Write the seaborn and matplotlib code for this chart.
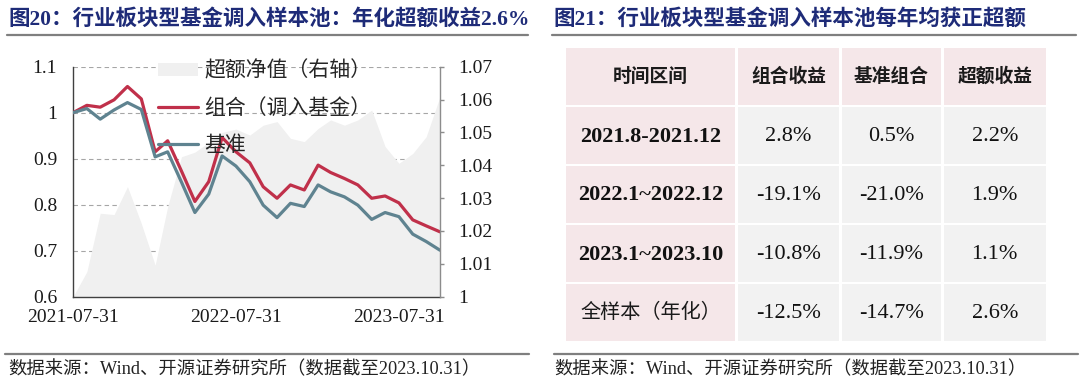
import numpy as np
import pandas as pd
import matplotlib
matplotlib.use("Agg")
import matplotlib.pyplot as plt
import matplotlib.dates as mdates
from matplotlib.lines import Line2D
from matplotlib.patches import Rectangle
import seaborn as sns

# -----------------------------
# Data
# -----------------------------
dates = pd.date_range("2021-07-31", "2023-10-31", freq="ME")

portfolio = [1.000, 1.016, 1.012, 1.028, 1.057, 1.030, 0.915, 0.939, 0.873, 0.807,
             0.850, 0.946, 0.915, 0.891, 0.839, 0.814, 0.843, 0.832, 0.886, 0.870,
             0.857, 0.843, 0.814, 0.819, 0.804, 0.767, 0.754, 0.741]
benchmark = [1.000, 1.009, 0.986, 1.006, 1.022, 1.007, 0.904, 0.915, 0.849, 0.783,
             0.823, 0.906, 0.884, 0.850, 0.799, 0.772, 0.803, 0.796, 0.843, 0.828,
             0.817, 0.799, 0.768, 0.783, 0.774, 0.736, 0.720, 0.701]
excess_nav = [1.000, 1.0076, 1.0254, 1.0250, 1.0335, 1.0223, 1.0096, 1.0274, 1.0426, 1.0440,
              1.0470, 1.0500, 1.0510, 1.0492, 1.0522, 1.0533, 1.0482, 1.0472, 1.0512, 1.0538,
              1.0522, 1.0538, 1.0568, 1.0457, 1.0406, 1.0436, 1.0487, 1.0609]

left_ticks = [0.6, 0.7, 0.8, 0.9, 1.0, 1.1]
left_labels = ["0.6", "0.7", "0.8", "0.9", "1", "1.1"]
right_ticks = [1.00, 1.01, 1.02, 1.03, 1.04, 1.05, 1.06, 1.07]
right_labels = ["1", "1.01", "1.02", "1.03", "1.04", "1.05", "1.06", "1.07"]
date_ticks = ["2021-07-31", "2022-07-31", "2023-07-31"]

table_header = ["时间区间", "组合收益", "基准组合", "超额收益"]
periods = ["2021.8-2021.12", "2022.1~2022.12", "2023.1~2023.10", "全样本（年化）"]
port_ret = ["2.8%", "-19.1%", "-10.8%", "-12.5%"]
bench_ret = ["0.5%", "-21.0%", "-11.9%", "-14.7%"]
excess_ret = ["2.2%", "1.9%", "1.1%", "2.6%"]

title_left = "图20：行业板块型基金调入样本池：年化超额收益2.6%"
title_right = "图21：行业板块型基金调入样本池每年均获正超额"
source = "数据来源：Wind、开源证券研究所（数据截至2023.10.31）"

# -----------------------------
# Style
# -----------------------------
sns.set_style("white")
plt.rcParams["font.family"] = ["Liberation Serif", "Noto Sans CJK SC", "DejaVu Sans"]
plt.rcParams["axes.unicode_minus"] = False

W, H = 1080, 387
RED = "#C0304A"
BLUE = "#5F8390"
AREA = "#F0F0F0"
NAVY = "#1E2B78"
PINK = "#F5E7E9"
GREY = "#F2F2F2"
CJK = ["Noto Sans CJK SC", "DejaVu Sans"]

fig = plt.figure(figsize=(W / 100, H / 100), dpi=100)


def fx(x):
    return x / W


def fy(y):
    return 1 - y / H


# titles, rules and sources
fig.text(fx(8), fy(19), title_left, fontsize=15.5, fontweight="bold", color=NAVY, va="center")
fig.text(fx(553), fy(19), title_right, fontsize=15.5, fontweight="bold", color=NAVY, va="center")
for x0, x1 in [(7, 528), (552, 1076)]:
    fig.add_artist(Line2D([fx(x0), fx(x1)], [fy(34.5)] * 2, color="#7f7f7f", lw=1.6))
for x0, x1 in [(5, 529), (554, 1078)]:
    fig.add_artist(Line2D([fx(x0), fx(x1)], [fy(354)] * 2, color="#7f7f7f", lw=1.6))
fig.text(fx(8), fy(369), source, fontsize=13.2, color="#222222", va="center")
fig.text(fx(554), fy(369), source, fontsize=13.2, color="#222222", va="center")

# -----------------------------
# Left chart
# -----------------------------
ax = fig.add_axes([fx(73), fy(296.7), (440 - 73) / W, (296.7 - 66.7) / H])
ax2 = ax.twinx()
ax2.set_ylim(1.0, 1.07)

# area drawn in ax but on the right-axis scale, so it sits over the grid and under the lines
ax.fill_between(dates, 1.0, excess_nav, transform=ax2.transData, color=AREA, lw=0,
                zorder=1, label="超额净值（右轴）")
sns.lineplot(x=dates, y=portfolio, ax=ax, color=RED, lw=2.3, zorder=3, label="组合（调入基金）")
sns.lineplot(x=dates, y=benchmark, ax=ax, color=BLUE, lw=2.3, zorder=3, label="基准")

ax.set_xlim(dates[0], dates[-1])
ax.set_ylim(0.6, 1.1)
ax.set_yticks(left_ticks)
ax.set_yticklabels(left_labels)
ax.set_xticks(pd.to_datetime(date_ticks))
ax.xaxis.set_major_formatter(mdates.DateFormatter("%Y-%m-%d"))
ax.set_xlabel("")
ax.set_ylabel("")
ax.set_axisbelow(True)
ax.yaxis.grid(True, ls=(0, (4, 3)), color="#a6a6a6", lw=0.8)
ax.xaxis.grid(False)

ax2.set_yticks(right_ticks)
ax2.set_yticklabels(right_labels)

for s in ["top", "right"]:
    ax.spines[s].set_visible(False)
for s in ["top", "left", "bottom"]:
    ax2.spines[s].set_visible(False)
ax.spines["left"].set_color("#404040")
ax.spines["bottom"].set_color("#404040")
ax2.spines["right"].set_color("#8c8c8c")
for sp in [ax.spines["left"], ax.spines["bottom"], ax2.spines["right"]]:
    sp.set_linewidth(1.0)

ax.tick_params(axis="y", length=0, pad=11.5, labelsize=14, labelcolor="#1a1a1a")
ax.tick_params(axis="x", direction="in", length=5, width=1, color="#404040", pad=9,
               labelsize=14, labelcolor="#1a1a1a")
ax2.tick_params(axis="y", direction="out", length=3, width=1, color="#8c8c8c", pad=10,
                labelsize=14, labelcolor="#1a1a1a")

handles, labels = ax.get_legend_handles_labels()
order = ["超额净值（右轴）", "组合（调入基金）", "基准"]
hmap = dict(zip(labels, handles))
leg = ax.legend([hmap[k] for k in order], order, loc="upper left",
                bbox_to_anchor=(0.232, 1.03), frameon=False, prop={"family": CJK, "size": 15},
                handlelength=1.9, handleheight=0.6, handletextpad=0.3, labelspacing=0.72,
                borderpad=0, borderaxespad=0)
leg.set_zorder(5)

# -----------------------------
# Right table
# -----------------------------
col_w = [171.5, 104, 102, 104.5]
row_h = 59
gap = 2.5
tax = fig.add_axes([fx(565), fy(342), sum(col_w) / W, (342 - 47) / H])
tax.set_xlim(0, sum(col_w))
tax.set_ylim(row_h * 5, 0)
tax.axis("off")

rows = [table_header] + [list(r) for r in zip(periods, port_ret, bench_ret, excess_ret)]
col_x = np.concatenate([[0], np.cumsum(col_w)])
for r, row in enumerate(rows):
    for c, txt in enumerate(row):
        x0 = col_x[c]
        colour = PINK if (r == 0 or c == 0) else GREY
        tax.add_patch(Rectangle((x0 + gap / 2, r * row_h + gap / 2), col_w[c] - gap, row_h - gap,
                                facecolor=colour, edgecolor="none"))
        cx = x0 + col_w[c] / 2
        cy = r * row_h + row_h / 2
        if r == 0:
            tax.text(cx, cy, txt, ha="center", va="center", fontsize=13.5, fontweight="bold",
                     family=CJK, color="#1a1a1a")
        elif c == 0 and r == 4:
            tax.text(cx, cy, txt, ha="center", va="center", fontsize=14.5, family=CJK,
                     color="#1a1a1a")
        elif c == 0:
            tax.text(cx, cy + 1, txt, ha="center", va="center", fontsize=16, fontweight="bold",
                     color="#111111")
        else:
            tax.text(cx, cy + 1, txt, ha="center", va="center", fontsize=16, color="#111111")

fig.savefig("out.png", dpi=100)
